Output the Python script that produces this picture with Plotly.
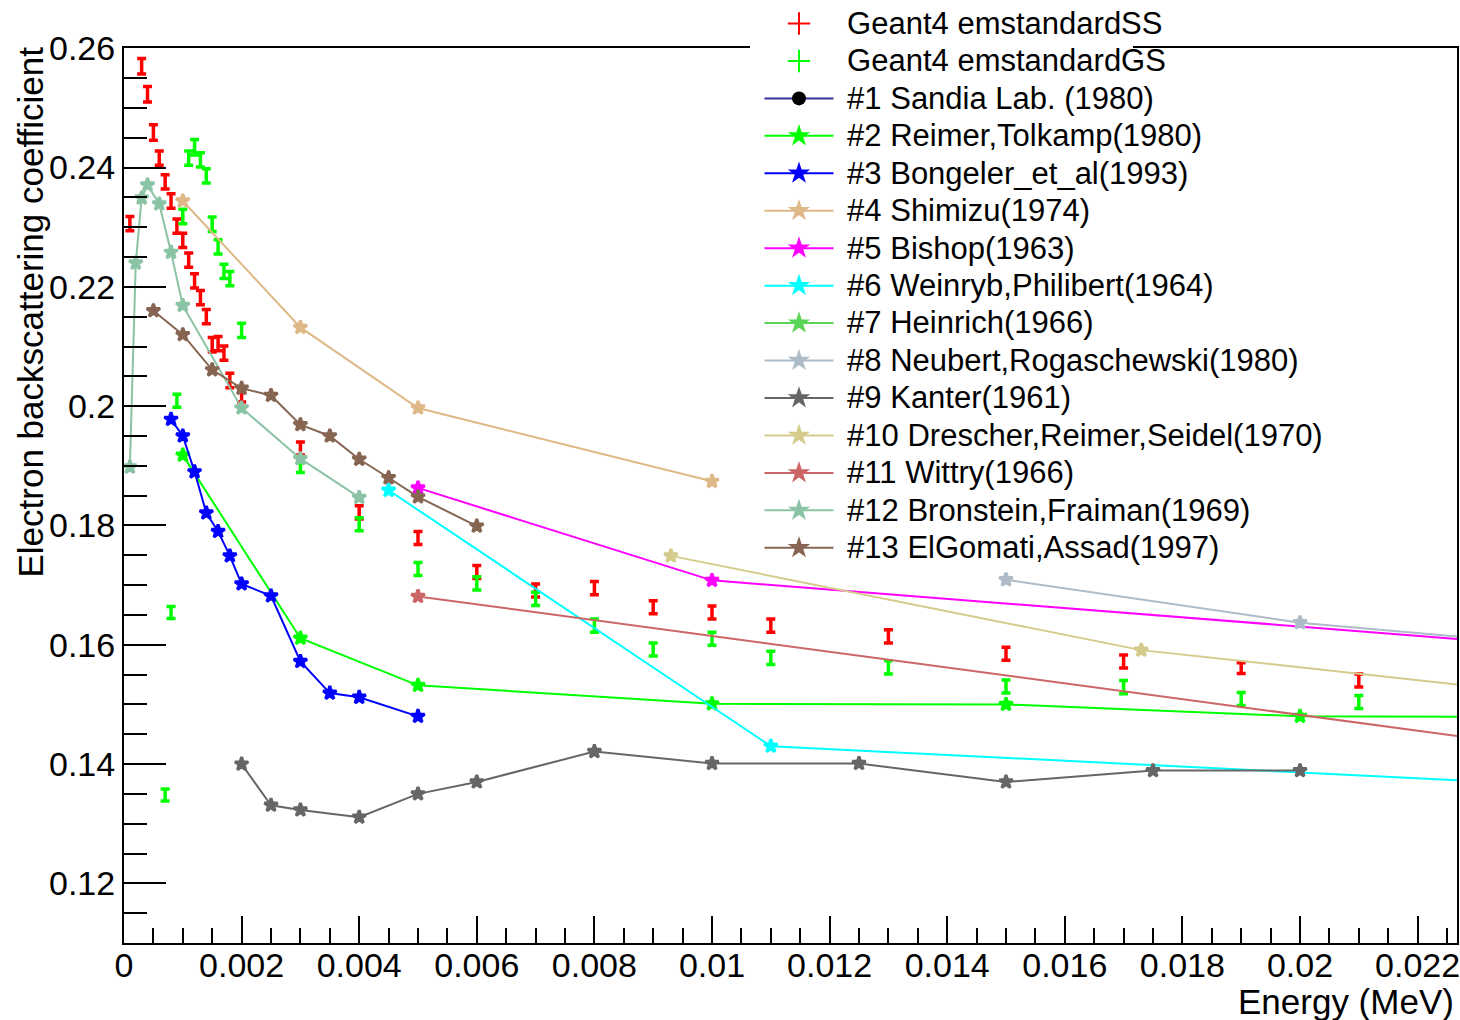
import plotly.graph_objects as go

# ---------------- data ----------------
ss_x = [0.0001, 0.0003, 0.0004, 0.0005, 0.0006, 0.0007, 0.0008, 0.0009, 0.001, 0.0011,
        0.0012, 0.0013, 0.0014, 0.0015, 0.0016, 0.0017, 0.0018, 0.002, 0.003, 0.004,
        0.005, 0.006, 0.007, 0.008, 0.009, 0.010, 0.011, 0.013, 0.015, 0.017, 0.019, 0.021]
ss_y = [0.2306, 0.2570, 0.2523, 0.2459, 0.2416, 0.2376, 0.2344, 0.2302, 0.2278, 0.2245,
        0.2210, 0.2182, 0.2150, 0.2103, 0.2105, 0.2089, 0.2043, 0.2018, 0.1929, 0.1822,
        0.1779, 0.1722, 0.1691, 0.1695, 0.1663, 0.1654, 0.1632, 0.1614, 0.1585, 0.1572,
        0.1561, 0.1540]
ss_err = [0.0012, 0.0013, 0.0013, 0.0013, 0.0012, 0.0012, 0.0012, 0.0012, 0.0012, 0.0012,
          0.0012, 0.0012, 0.0012, 0.0012, 0.0012, 0.0012, 0.0012, 0.0011, 0.0011, 0.0011,
          0.0011, 0.0011, 0.0011, 0.0011, 0.0011, 0.0011, 0.0011, 0.0011, 0.0011, 0.0011,
          0.0009, 0.0011]

gs_x = [0.0007, 0.0008, 0.0009, 0.001, 0.0011, 0.0012, 0.0013, 0.0014, 0.0015, 0.0016,
        0.0017, 0.0018, 0.002, 0.003, 0.004, 0.005, 0.006, 0.007, 0.008, 0.009,
        0.010, 0.011, 0.013, 0.015, 0.017, 0.019, 0.021]
gs_y = [0.1348, 0.1654, 0.2009, 0.2318, 0.2416, 0.2434, 0.2413, 0.2386, 0.2305, 0.2267,
        0.2226, 0.2214, 0.2127, 0.1900, 0.1802, 0.1727, 0.1703, 0.1677, 0.1632, 0.1592,
        0.1610, 0.1578, 0.1562, 0.1530, 0.1529, 0.1509, 0.1504]
gs_err = [0.0010, 0.0010, 0.0011, 0.0012, 0.0012, 0.0013, 0.0012, 0.0012, 0.0012, 0.0012,
          0.0012, 0.0012, 0.0012, 0.0011, 0.0011, 0.0011, 0.0011, 0.0011, 0.0011, 0.0011,
          0.0011, 0.0011, 0.0011, 0.0011, 0.0011, 0.0011, 0.0011]

sandia_x, sandia_y = [], []
reimer_x = [0.001, 0.003, 0.005, 0.010, 0.015, 0.020, 0.025]
reimer_y = [0.1918, 0.1611, 0.1532, 0.1501, 0.1500, 0.1480, 0.1479]
bong_x = [0.0008, 0.001, 0.0012, 0.0014, 0.0016, 0.0018, 0.002, 0.0025, 0.003, 0.0035, 0.004, 0.005]
bong_y = [0.1978, 0.1950, 0.1890, 0.1821, 0.1790, 0.1749, 0.1702, 0.1682, 0.1572, 0.1519, 0.1512, 0.1480]
shim_x = [0.001, 0.003, 0.005, 0.010]
shim_y = [0.2344, 0.2132, 0.1997, 0.1874]
bish_x = [0.005, 0.010, 0.030]
bish_y = [0.1863, 0.1708, 0.1553]
wein_x = [0.0045, 0.011, 0.030]
wein_y = [0.1859, 0.1430, 0.1337]
hein_x, hein_y = [], []
neub_x = [0.015, 0.020, 0.030]
neub_y = [0.1709, 0.1637, 0.1551]
kant_x = [0.002, 0.0025, 0.003, 0.004, 0.005, 0.006, 0.008, 0.010, 0.0125, 0.015, 0.0175, 0.020]
kant_y = [0.1400, 0.1331, 0.1323, 0.1311, 0.1350, 0.1370, 0.1421, 0.1401, 0.1401, 0.1370, 0.1389, 0.1389]
dres_x = [0.0093, 0.0173, 0.030]
dres_y = [0.1749, 0.1591, 0.1455]
witt_x = [0.005, 0.030]
witt_y = [0.1681, 0.1350]
bron_x = [0.0001, 0.0002, 0.0003, 0.0004, 0.0006, 0.0008, 0.001, 0.002, 0.003, 0.004]
bron_y = [0.1898, 0.2240, 0.2349, 0.2371, 0.2339, 0.2258, 0.2169, 0.1997, 0.1912, 0.1847]
elgo_x = [0.0005, 0.001, 0.0015, 0.002, 0.0025, 0.003, 0.0035, 0.004, 0.0045, 0.005, 0.006]
elgo_y = [0.2160, 0.2120, 0.2061, 0.2030, 0.2018, 0.1969, 0.1950, 0.1911, 0.1880, 0.1848, 0.1799]

exp_series = [
    ("#1 Sandia Lab. (1980)", sandia_x, sandia_y, "#333399", "#000000", "circle"),
    ("#2 Reimer,Tolkamp(1980)", reimer_x, reimer_y, "#00ff00", "#00ff00", "star"),
    ("#3 Bongeler_et_al(1993)", bong_x, bong_y, "#0000ff", "#0000ff", "star"),
    ("#4 Shimizu(1974)", shim_x, shim_y, "#deb887", "#deb887", "star"),
    ("#5 Bishop(1963)", bish_x, bish_y, "#ff00ff", "#ff00ff", "star"),
    ("#6 Weinryb,Philibert(1964)", wein_x, wein_y, "#00ffff", "#00ffff", "star"),
    ("#7 Heinrich(1966)", hein_x, hein_y, "#59d454", "#59d454", "star"),
    ("#8 Neubert,Rogaschewski(1980)", neub_x, neub_y, "#aebcc8", "#aebcc8", "star"),
    ("#9 Kanter(1961)", kant_x, kant_y, "#666666", "#666666", "star"),
    ("#10 Drescher,Reimer,Seidel(1970)", dres_x, dres_y, "#d4cb8c", "#d4cb8c", "star"),
    ("#11 Wittry(1966)", witt_x, witt_y, "#cc6666", "#cc6666", "star"),
    ("#12 Bronstein,Fraiman(1969)", bron_x, bron_y, "#8bc3a5", "#8bc3a5", "star"),
    ("#13 ElGomati,Assad(1997)", elgo_x, elgo_y, "#866552", "#866552", "star"),
]

# ---------------- style ----------------
FONT = "Liberation Sans"
LEG_FS = 31
LEG_SPACING_FS = 26.5
TICK_FS = 34
TITLE_FS = 35

def leg(label):
    return '<span style="font-size:%dpx">\u00a0%s</span>' % (LEG_FS, label)

fig = go.Figure()

# simulation points (error bars)
for x, y, e, col, lab in [(ss_x, ss_y, ss_err, "#ff0000", "Geant4 emstandardSS"),
                          (gs_x, gs_y, gs_err, "#00ff00", "Geant4 emstandardGS")]:
    fig.add_trace(go.Scatter(
        x=x, y=y, mode="markers", showlegend=False,
        marker=dict(size=2, color=col),
        error_y=dict(type="data", array=e, visible=True, color=col, thickness=3.5, width=4.5),
        hoverinfo="x+y"))
    fig.add_trace(go.Scatter(
        x=[None], y=[None], mode="markers", name=leg(lab),
        marker=dict(symbol="cross-thin", size=16, line=dict(color=col, width=2), color=col)))

for name, x, y, lc, mc, sym in exp_series:
    is_star = sym == "star"
    fig.add_trace(go.Scatter(
        x=x if x else [None], y=y if y else [None], mode="lines+markers", name=leg(name),
        line=dict(color=lc, width=2),
        marker=dict(symbol=sym, size=10 if is_star else 14, color=mc,
                    line=dict(color=mc, width=3 if is_star else 0))))

W, H = 1460, 1020
L, R, T, B = 124, 3, 48, 77
pw, ph = W - L - R, H - T - B
legend_h = 15 * (LEG_SPACING_FS * 1.3 + 3) + 10

fig.update_layout(
    width=W, height=H,
    margin=dict(l=L, r=R, t=T, b=B, autoexpand=False),
    paper_bgcolor="white", plot_bgcolor="white",
    font=dict(family=FONT, color="black", size=TICK_FS),
    legend=dict(
        x=(759.5 - L) / pw, y=((H - B) - legend_h) / ph, xanchor="left", yanchor="bottom",
        bgcolor="rgba(0,0,0,0)", borderwidth=0, itemwidth=69,
        font=dict(family=FONT, size=LEG_SPACING_FS, color="black"),
        tracegroupgap=0),
    xaxis=dict(
        range=[0, 0.02267], showgrid=False, zeroline=False,
        showline=True, linecolor="black", linewidth=2, mirror=True,
        ticks="inside", ticklen=27, tickwidth=2, tickcolor="black",
        dtick=0.002, tick0=0, exponentformat="none", ticklabelstandoff=-9,
        ticklabeloverflow="allow",
        tickfont=dict(family=FONT, size=TICK_FS, color="black"),
        minor=dict(dtick=0.0005, ticks="inside", ticklen=15, tickwidth=2, tickcolor="black")),
    yaxis=dict(
        range=[0.1100, 0.26005], showgrid=False, zeroline=False,
        showline=True, linecolor="black", linewidth=2, mirror=True,
        ticks="inside", ticklen=42, tickwidth=2, tickcolor="black",
        dtick=0.02, tick0=0, exponentformat="none",
        tickfont=dict(family=FONT, size=TICK_FS, color="black"),
        minor=dict(dtick=0.005, ticks="inside", ticklen=23, tickwidth=2, tickcolor="black")),
    shapes=[dict(type="rect", xref="paper", yref="paper",
                 x0=(750 - L) / pw, x1=(1133 - L) / pw,
                 y0=1 - 4 / ph, y1=1 + 4 / ph,
                 fillcolor="white", line=dict(width=0), layer="above")],
    annotations=[
        dict(text="Electron backscattering coefficient", textangle=-90,
             xref="paper", yref="paper", x=(30 - L) / pw, y=1 + 3 / ph,
             xanchor="center", yanchor="top", showarrow=False,
             font=dict(family=FONT, size=TITLE_FS, color="black")),
        dict(text="Energy (MeV)", xref="paper", yref="paper",
             x=1 + (1455 - (W - R)) / pw, y=-(1001 - (H - B)) / ph,
             xanchor="right", yanchor="middle", showarrow=False, borderpad=0,
             font=dict(family=FONT, size=TITLE_FS, color="black")),
    ],
)

fig.write_html("out.html")
